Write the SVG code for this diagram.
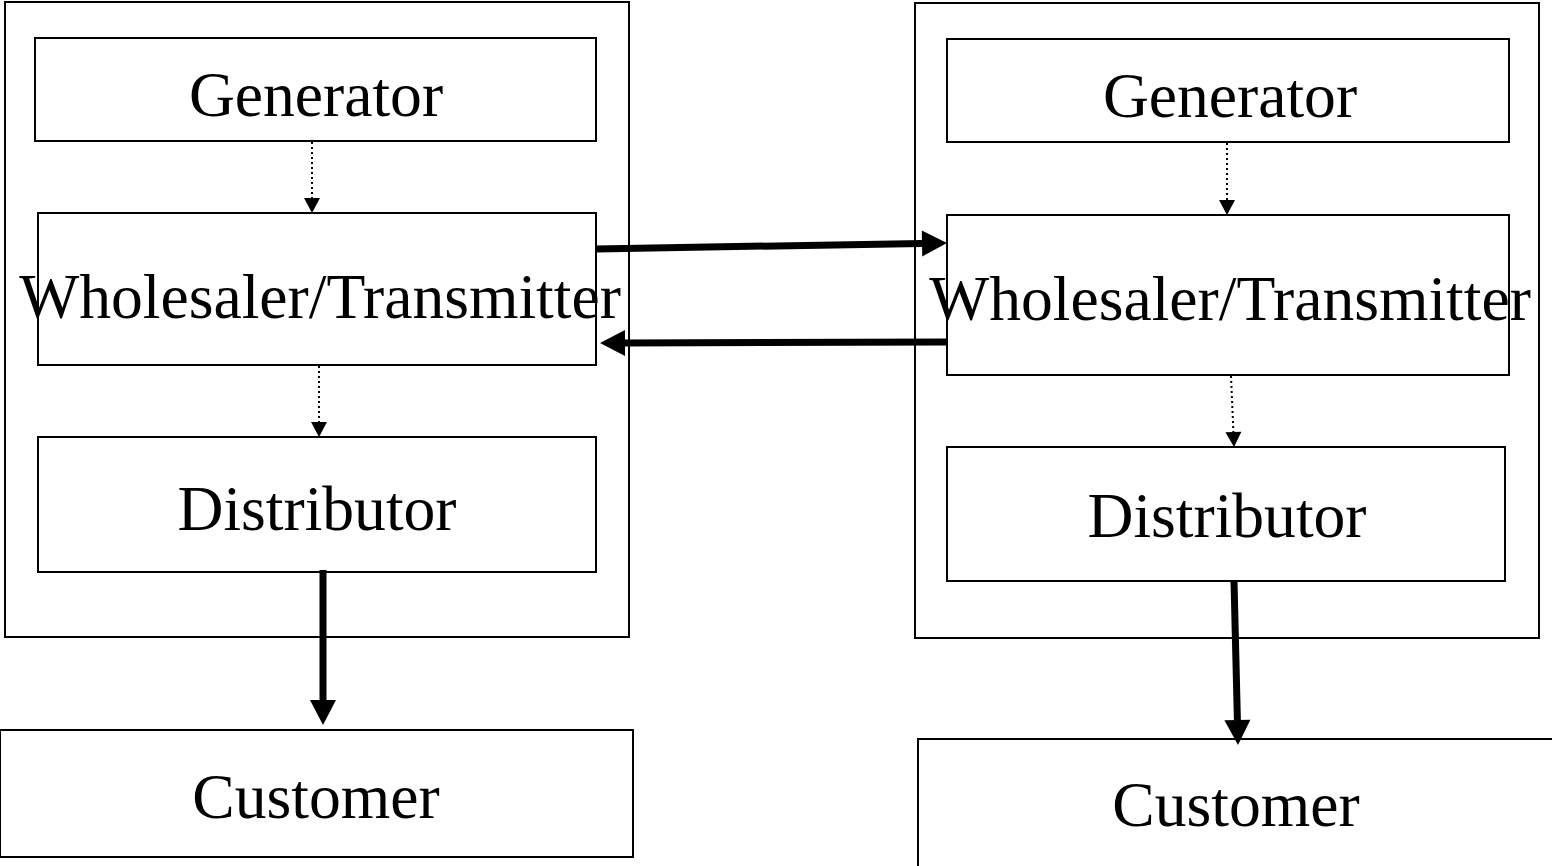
<svg xmlns="http://www.w3.org/2000/svg" width="1552" height="866" viewBox="0 0 1552 866">
<style>
.box{fill:none;stroke:#000;stroke-width:2}
.t{font-family:"Liberation Serif","Times New Roman",serif;font-size:63.6px;fill:#000;text-anchor:middle}
.dot{stroke:#000;stroke-width:2;stroke-dasharray:2,3;fill:none}
.thick{stroke:#000;stroke-width:7;fill:none}
</style>
<defs>
<marker id="small" markerUnits="userSpaceOnUse" markerWidth="16" markerHeight="16" refX="0" refY="8" orient="auto" overflow="visible"><path d="M0,0 L15,8 L0,16 Z" fill="#000"/></marker>
<marker id="big" markerUnits="userSpaceOnUse" markerWidth="26" markerHeight="26" refX="0" refY="13" orient="auto" overflow="visible"><path d="M0,0 L25,13 L0,26 Z" fill="#000"/></marker>
</defs>
<rect x="0" y="0" width="1552" height="866" fill="#fff"/>
<g id="left-group"><rect class="box" x="5" y="2" width="624" height="635"/></g>
<g id="right-group"><rect class="box" x="915" y="3" width="624" height="635"/></g>
<g id="gen-left"><rect class="box" x="35" y="38" width="561" height="103"/><text class="t" x="316" y="116">Generator</text></g>
<g id="wt-left"><rect class="box" x="38" y="213" width="558" height="152"/><text class="t" x="320" y="318">Wholesaler/Transmitter</text></g>
<g id="dist-left"><rect class="box" x="38" y="437" width="558" height="135"/><text class="t" x="317" y="530">Distributor</text></g>
<g id="cust-left"><rect class="box" x="0" y="730" width="633" height="127"/><text class="t" x="316" y="818">Customer</text></g>
<g id="gen-right"><rect class="box" x="947" y="39" width="562" height="103"/><text class="t" x="1230" y="117">Generator</text></g>
<g id="wt-right"><rect class="box" x="947" y="215" width="562" height="160"/><text class="t" x="1230" y="320">Wholesaler/Transmitter</text></g>
<g id="dist-right"><rect class="box" x="947" y="447" width="558" height="134"/><text class="t" x="1227" y="537">Distributor</text></g>
<g id="cust-right"><rect class="box" x="918" y="739" width="640" height="140"/><text class="t" x="1236" y="826">Customer</text></g>
<g id="connectors">
<line class="dot" x1="312" y1="142" x2="312" y2="198" marker-end="url(#small)"/>
<line class="dot" x1="319" y1="366" x2="319" y2="422" marker-end="url(#small)"/>
<line class="dot" x1="1227" y1="143" x2="1227" y2="200" marker-end="url(#small)"/>
<line class="dot" x1="1231" y1="376" x2="1233.4" y2="432" marker-end="url(#small)"/>
<line class="thick" x1="596" y1="249" x2="922" y2="243.4" marker-end="url(#big)"/>
<line class="thick" x1="947" y1="342" x2="625" y2="343" marker-end="url(#big)"/>
<line class="thick" x1="323" y1="570" x2="323" y2="700" marker-end="url(#big)"/>
<line class="thick" x1="1234" y1="581" x2="1237.4" y2="720" marker-end="url(#big)"/>
</g>
</svg>
